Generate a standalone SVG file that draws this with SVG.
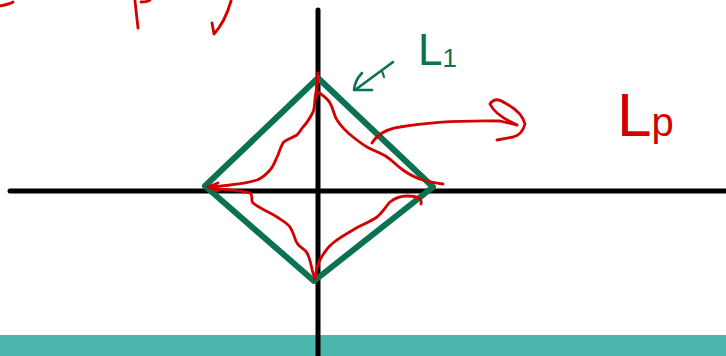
<svg xmlns="http://www.w3.org/2000/svg" width="726" height="356" viewBox="0 0 726 356">
<style>
.axis{stroke:#000;stroke-width:5;fill:none;stroke-linecap:round}
.grn{stroke:#0A7252;fill:none;stroke-linecap:round;stroke-linejoin:round}
.red{stroke:#D40000;stroke-width:2.8;fill:none;stroke-linecap:round;stroke-linejoin:round}
.lblg{font-family:"Liberation Sans",sans-serif;fill:#0A7252}
.lblr{font-family:"Liberation Sans",sans-serif;fill:#D40000}
</style>
<rect id="bar" x="0" y="335" width="726" height="21" fill="#4DB6AC"/>
<g id="axes">
<path class="axis" d="M10,191 L726,191"/>
<path class="axis" d="M318,10 L318,356"/>
</g>
<g id="diamond">
<path class="grn" stroke-width="6" d="M318,78 L433,187 L314,281 L205,186 Z"/>
</g>
<g id="astroid">
<path class="red" d="M318,73 C316,82 317,86 316,92 C314,102 315,108 313,112 C309,120 306,124 303,127 C300,131 299,133 297,135 C290,139 285,140 283,143 C279,150 279,154 277,157 C274,164 273,167 270,170 C265,176 262,178 257,180 C245,184 238,184 230,185 C220,186 214,187 208,187"/>
<path class="red" d="M208,187 L218,183 M208,187 L218,191"/>
<path class="red" d="M318,92 C324,96 328,99 330,103 C334,110 334,116 337,120 C342,128 348,133 353,137 C358,141 362,144 367,147 C374,151 381,153 387,157 C393,161 397,166 403,170 C410,175 416,178 423,180 C430,182 436,183 443,184"/>
<path class="red" d="M210,188 C225,190 240,190 250,193 C254,196 250,200 253,203 C260,209 270,212 277,217 C283,221 287,223 290,227 C294,233 294,238 297,243 C300,248 305,249 307,253 C311,260 311,267 313,273 C314,276 315,278 315,279"/>
<path class="red" d="M315,279 C316,270 317,265 320,260 C324,252 328,247 333,243 C339,238 346,234 353,230 C361,225 370,222 377,217 C383,212 386,206 390,202 C395,198 401,196 407,196 C413,196 418,197 420,199 C422,201 421,203 421,204"/>
<path class="red" d="M316,97 L318,76"/>
</g>
<g id="connectors">
<path class="red" d="M372,143 Q380,130 400,127 Q440,120 500,121 L517,125"/>
<path class="red" d="M517,125 Q495,115 490,104 Q495,96 505,103 Q522,112 525,124 Q522,135 513,137 L497,140"/>
<path class="grn" stroke-width="2.6" d="M393,62 L355,90"/>
<path class="grn" stroke-width="2.6" d="M362,73 Q355,80 354,90 L372,90"/>
<path class="grn" stroke-width="2.2" d="M382,71 L384,77"/>
</g>
<g id="scribbles">
<path class="red" d="M0,6 Q10,4 13,2"/>
<path class="red" d="M135,1 L138,28"/>
<path class="red" d="M141,2 Q148,2 150,0"/>
<path class="red" d="M231,1 Q225,22 214,34 L212,23"/>
</g>
<g id="label-L1">
<text class="lblg" x="418" y="65" font-size="44">L<tspan font-size="26" dy="2">1</tspan></text>
</g>
<g id="label-Lp">
<text class="lblr" x="617" y="136" font-size="62">L<tspan font-size="40">p</tspan></text>
</g>
</svg>
